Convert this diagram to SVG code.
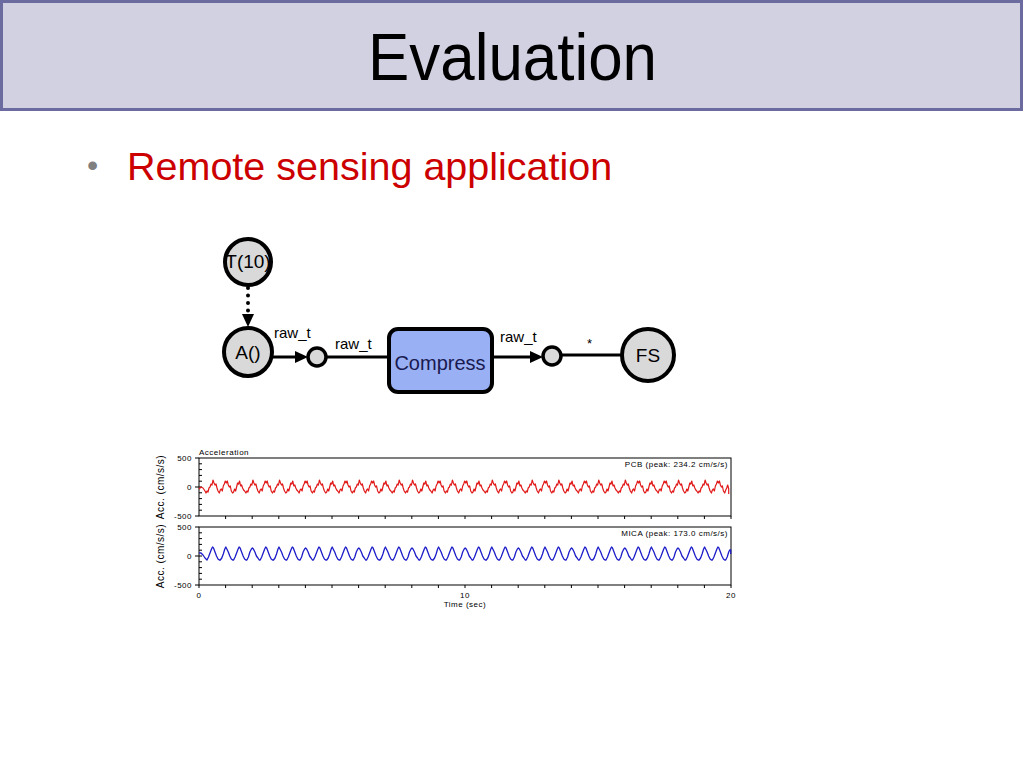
<svg xmlns="http://www.w3.org/2000/svg" width="1024" height="768" viewBox="0 0 1024 768">
<style>
.lbl{font-family:"Liberation Sans",Arial,sans-serif;fill:#000}
.node{fill:#d9d9d9;stroke:#000;stroke-width:4}
.conn{stroke:#000;stroke-width:3;fill:none}
.port{fill:#d9d9d9;stroke:#000;stroke-width:3.5}
.ax{stroke:#000;stroke-width:1;fill:none}
.tk{font-family:"Liberation Sans",Arial,sans-serif;font-size:8px;fill:#000;letter-spacing:0.5px}
</style>
<defs>
<path id="rA" d="M0,0 l1,-2 1,1 1,-4 1,-1 1,-3 1,1 1,-5 1,3 1,2 1,-1 1,4 1,3 1.3,2"/>
</defs>
<rect width="1024" height="768" fill="#fff"/>
<g id="title">
<rect x="1.5" y="1.5" width="1020" height="108" fill="#d1d1e1" stroke="#6b6b9f" stroke-width="3"/>
<text x="368" y="80" class="lbl" font-size="66" textLength="289" lengthAdjust="spacingAndGlyphs">Evaluation</text>
</g>
<g id="bullet">
<text x="87" y="176" font-family="Liberation Sans, Arial, sans-serif" font-size="32" fill="#808080">•</text>
<text x="127" y="180" font-family="Liberation Sans, Arial, sans-serif" font-size="39.5" fill="#cc0000">Remote sensing application</text>
</g>
<g id="connectors">
<line x1="248" y1="288" x2="248" y2="311" stroke="#000" stroke-width="4" stroke-linecap="round" stroke-dasharray="0,7.5"/>
<path d="M248,314 L242,314 L248,327 L254,314 z" fill="#000"/>
<line x1="272" y1="357" x2="297" y2="357" class="conn"/>
<path d="M295,351 L308,357 L295,363 z" fill="#000"/>
<line x1="326" y1="357" x2="389" y2="357" class="conn"/>
<line x1="492" y1="357" x2="532" y2="357" class="conn"/>
<path d="M530,351 L543,357 L530,363 z" fill="#000"/>
<line x1="561" y1="355" x2="623" y2="355" class="conn"/>
<text x="274" y="338" class="lbl" font-size="15">raw_t</text>
<text x="335" y="349" class="lbl" font-size="15">raw_t</text>
<text x="500" y="342" class="lbl" font-size="15">raw_t</text>
<text x="587" y="348" class="lbl" font-size="13">*</text>
</g>
<g id="node-T">
<circle cx="248" cy="262" r="23" fill="#d9d9d9"/>
<text x="248" y="268" text-anchor="middle" class="lbl" font-size="19">T(10)</text>
<circle cx="248" cy="262" r="23" fill="none" stroke="#000" stroke-width="4"/>
</g>
<g id="node-A">
<circle cx="248" cy="352" r="24" class="node"/>
<text x="248" y="359" text-anchor="middle" class="lbl" font-size="19">A()</text>
</g>
<g id="port-1"><circle cx="317" cy="357" r="9" class="port"/></g>
<g id="node-Compress">
<rect x="389" y="329" width="103" height="63" rx="9" fill="#99b0f5" stroke="#000" stroke-width="4"/>
<text x="440" y="370" text-anchor="middle" class="lbl" font-size="20" style="fill:#1a1a50">Compress</text>
</g>
<g id="port-2"><circle cx="552" cy="356" r="9" class="port"/></g>
<g id="node-FS">
<circle cx="648" cy="355" r="26" class="node"/>
<text x="648" y="362" text-anchor="middle" class="lbl" font-size="19">FS</text>
</g>
<g id="chart">
<rect x="199" y="458" width="532" height="58" class="ax"/>
<rect x="199" y="527" width="532" height="58" class="ax"/>
<path class="ax" d="M199,463.8h3M199,469.6h3M199,475.4h3M199,481.2h3M199,487h3M199,492.8h3M199,498.6h3M199,504.4h3M199,510.2h3M195,458h4M195,487h4M195,516h4
M199,532.8h3M199,538.6h3M199,544.4h3M199,550.2h3M199,556h3M199,561.8h3M199,567.6h3M199,573.4h3M199,579.2h3M195,527h4M195,556h4M195,585h4"/>
<path class="ax" d="M225.6,516v3M252.2,516v3M278.8,516v3M305.4,516v3M332,516v3M358.6,516v3M385.2,516v3M411.8,516v3M438.4,516v3M465,516v3M491.6,516v3M518.2,516v3M544.8,516v3M571.4,516v3M598,516v3M624.6,516v3M651.2,516v3M677.8,516v3M704.4,516v3M731,516v3
M199,585v3M225.6,585v3M252.2,585v3M278.8,585v3M305.4,585v3M332,585v3M358.6,585v3M385.2,585v3M411.8,585v3M438.4,585v3M465,585v3M491.6,585v3M518.2,585v3M544.8,585v3M571.4,585v3M598,585v3M624.6,585v3M651.2,585v3M677.8,585v3M704.4,585v3M731,585v3"/>
<path fill="none" stroke="#e01818" stroke-width="1.2" stroke-linejoin="round" d="M199,489 l2,-2 2,1 2,3 1,2 
l1,-2 1,1 1,-4 1,-1 1,-3 1,1 1,-5 1,3 1,2 1,-1 1,4 1,3 1.3,2
l1,-3 1,-1 1,2 1,-5 1,-2 1,-3 1,2 1,-2 1,4 1,2 1,-1 1,5 1.3,2
l1,-1 1,-3 1,2 1,-4 1,-4 1,1 1,-3 1,5 1,-1 1,3 1,2 1,1 1.3,2
l1,-2 1,1 1,-4 1,-1 1,-3 1,1 1,-5 1,3 1,2 1,-1 1,4 1,3 1.3,2
l1,-3 1,-1 1,2 1,-5 1,-2 1,-3 1,2 1,-2 1,4 1,2 1,-1 1,5 1.3,2
l1,-2 1,1 1,-4 1,-1 1,-3 1,1 1,-5 1,3 1,2 1,-1 1,4 1,3 1.3,2
l1,-1 1,-3 1,2 1,-4 1,-4 1,1 1,-3 1,5 1,-1 1,3 1,2 1,1 1.3,2
l1,-3 1,-1 1,2 1,-5 1,-2 1,-3 1,2 1,-2 1,4 1,2 1,-1 1,5 1.3,2
l1,-2 1,1 1,-4 1,-1 1,-3 1,1 1,-5 1,3 1,2 1,-1 1,4 1,3 1.3,2
l1,-1 1,-3 1,2 1,-4 1,-4 1,1 1,-3 1,5 1,-1 1,3 1,2 1,1 1.3,2
l1,-3 1,-1 1,2 1,-5 1,-2 1,-3 1,2 1,-2 1,4 1,2 1,-1 1,5 1.3,2
l1,-2 1,1 1,-4 1,-1 1,-3 1,1 1,-5 1,3 1,2 1,-1 1,4 1,3 1.3,2
l1,-3 1,-1 1,2 1,-5 1,-2 1,-3 1,2 1,-2 1,4 1,2 1,-1 1,5 1.3,2
l1,-1 1,-3 1,2 1,-4 1,-4 1,1 1,-3 1,5 1,-1 1,3 1,2 1,1 1.3,2
l1,-2 1,1 1,-4 1,-1 1,-3 1,1 1,-5 1,3 1,2 1,-1 1,4 1,3 1.3,2
l1,-2 1,1 1,-4 1,-1 1,-3 1,1 1,-5 1,3 1,2 1,-1 1,4 1,3 1.3,2
l1,-1 1,-3 1,2 1,-4 1,-4 1,1 1,-3 1,5 1,-1 1,3 1,2 1,1 1.3,2
l1,-3 1,-1 1,2 1,-5 1,-2 1,-3 1,2 1,-2 1,4 1,2 1,-1 1,5 1.3,2
l1,-2 1,1 1,-4 1,-1 1,-3 1,1 1,-5 1,3 1,2 1,-1 1,4 1,3 1.3,2
l1,-3 1,-1 1,2 1,-5 1,-2 1,-3 1,2 1,-2 1,4 1,2 1,-1 1,5 1.3,2
l1,-1 1,-3 1,2 1,-4 1,-4 1,1 1,-3 1,5 1,-1 1,3 1,2 1,1 1.3,2
l1,-2 1,1 1,-4 1,-1 1,-3 1,1 1,-5 1,3 1,2 1,-1 1,4 1,3 1.3,2
l1,-3 1,-1 1,2 1,-5 1,-2 1,-3 1,2 1,-2 1,4 1,2 1,-1 1,5 1.3,2
l1,-1 1,-3 1,2 1,-4 1,-4 1,1 1,-3 1,5 1,-1 1,3 1,2 1,1 1.3,2
l1,-2 1,1 1,-4 1,-1 1,-3 1,1 1,-5 1,3 1,2 1,-1 1,4 1,3 1.3,2
l1,-3 1,-1 1,2 1,-5 1,-2 1,-3 1,2 1,-2 1,4 1,2 1,-1 1,5 1.3,2
l1,-2 1,1 1,-4 1,-1 1,-3 1,1 1,-5 1,3 1,2 1,-1 1,4 1,3 1.3,2
l1,-1 1,-3 1,2 1,-4 1,-4 1,1 1,-3 1,5 1,-1 1,3 1,2 1,1 1.3,2
l1,-3 1,-1 1,2 1,-5 1,-2 1,-3 1,2 1,-2 1,4 1,2 1,-1 1,5 1.3,2
l1,-2 1,1 1,-4 1,-1 1,-3 1,1 1,-5 1,3 1,2 1,-1 1,4 1,3 1.3,2
l1,-1 1,-3 1,2 1,-4 1,-4 1,1 1,-3 1,5 1,-1 1,3 1,2 1,1 1.3,2
l1,-2 1,1 1,-4 1,-1 1,-3 1,1 1,-5 1,3 1,2 1,-1 1,4 1,3 1.3,2
l1,-3 1,-1 1,2 1,-5 1,-2 1,-3 1,2 1,-2 1,4 1,2 1,-1 1,5 1.3,2
l1,-1 1,-3 1,2 1,-4 1,-4 1,1 1,-3 1,5 1,-1 1,3 1,2 1,1 1.3,2
l1,-3 1,-1 1,2 1,-5 1,-2 1,-3 1,2 1,-2 1,4 1,2 1,-1 1,5 1.3,2
l1,-2 1,1 1,-4 1,-1 1,-3 1,1 1,-5 1,3 1,2 1,-1 1,4 1,3 1.3,2
l1,-1 1,-3 1,2 1,-4 1,-4 1,1 1,-3 1,5 1,-1 1,3 1,2 1,1 1.3,2
l1,-2 1,1 1,-4 1,-1 1,-3 1,1 1,-5 1,3 1,2 1,-1 1,4 1,3 1.3,2
l1,-3 1,-1 1,2 1,-5 1,-2 1,-3 1,2 1,-2 1,4 1,2 1,-1 1,5 1.3,2
l1,-3 1,-2 1,-3 1,4 0,5"/>
<path fill="none" stroke="#1c1cc8" stroke-width="1.3" stroke-linejoin="round" d="M199,553 l2,0 2,2 2,3 2,2 
l1.5,-3 1.5,-4 1.5,-4 1,-2 1,1 1.5,4 1.5,4 1.5,3 1.3,1 1,0
l1.5,-2 1.5,-4 1.5,-5 1,-2 1,2 1.5,3 1.5,4 1.5,3 1.3,1 1,0
l1.5,-3 1.5,-4 1.5,-4 1,-2 1,1 1.5,4 1.5,4 1.5,3 1.3,1 1,0
l1.5,-3 1.5,-5 1.5,-3 1,-1 1,1 1.5,3 1.5,4 1.5,2 1.3,2 1,0
l1.5,-3 1.5,-4 1.5,-4 1,-2 1,1 1.5,4 1.5,4 1.5,3 1.3,1 1,0
l1.5,-2 1.5,-4 1.5,-5 1,-2 1,2 1.5,3 1.5,4 1.5,3 1.3,1 1,0
l1.5,-3 1.5,-4 1.5,-4 1,-2 1,1 1.5,4 1.5,4 1.5,3 1.3,1 1,0
l1.5,-3 1.5,-5 1.5,-3 1,-1 1,1 1.5,3 1.5,4 1.5,2 1.3,2 1,0
l1.5,-3 1.5,-4 1.5,-4 1,-2 1,1 1.5,4 1.5,4 1.5,3 1.3,1 1,0
l1.5,-2 1.5,-4 1.5,-5 1,-2 1,2 1.5,3 1.5,4 1.5,3 1.3,1 1,0
l1.5,-3 1.5,-4 1.5,-4 1,-2 1,1 1.5,4 1.5,4 1.5,3 1.3,1 1,0
l1.5,-3 1.5,-5 1.5,-3 1,-1 1,1 1.5,3 1.5,4 1.5,2 1.3,2 1,0
l1.5,-3 1.5,-4 1.5,-4 1,-2 1,1 1.5,4 1.5,4 1.5,3 1.3,1 1,0
l1.5,-2 1.5,-4 1.5,-5 1,-2 1,2 1.5,3 1.5,4 1.5,3 1.3,1 1,0
l1.5,-3 1.5,-4 1.5,-4 1,-2 1,1 1.5,4 1.5,4 1.5,3 1.3,1 1,0
l1.5,-3 1.5,-5 1.5,-3 1,-1 1,1 1.5,3 1.5,4 1.5,2 1.3,2 1,0
l1.5,-3 1.5,-4 1.5,-4 1,-2 1,1 1.5,4 1.5,4 1.5,3 1.3,1 1,0
l1.5,-2 1.5,-4 1.5,-5 1,-2 1,2 1.5,3 1.5,4 1.5,3 1.3,1 1,0
l1.5,-3 1.5,-4 1.5,-4 1,-2 1,1 1.5,4 1.5,4 1.5,3 1.3,1 1,0
l1.5,-3 1.5,-5 1.5,-3 1,-1 1,1 1.5,3 1.5,4 1.5,2 1.3,2 1,0
l1.5,-3 1.5,-4 1.5,-4 1,-2 1,1 1.5,4 1.5,4 1.5,3 1.3,1 1,0
l1.5,-2 1.5,-4 1.5,-5 1,-2 1,2 1.5,3 1.5,4 1.5,3 1.3,1 1,0
l1.5,-3 1.5,-4 1.5,-4 1,-2 1,1 1.5,4 1.5,4 1.5,3 1.3,1 1,0
l1.5,-3 1.5,-5 1.5,-3 1,-1 1,1 1.5,3 1.5,4 1.5,2 1.3,2 1,0
l1.5,-3 1.5,-4 1.5,-4 1,-2 1,1 1.5,4 1.5,4 1.5,3 1.3,1 1,0
l1.5,-2 1.5,-4 1.5,-5 1,-2 1,2 1.5,3 1.5,4 1.5,3 1.3,1 1,0
l1.5,-3 1.5,-4 1.5,-4 1,-2 1,1 1.5,4 1.5,4 1.5,3 1.3,1 1,0
l1.5,-3 1.5,-5 1.5,-3 1,-1 1,1 1.5,3 1.5,4 1.5,2 1.3,2 1,0
l1.5,-3 1.5,-4 1.5,-4 1,-2 1,1 1.5,4 1.5,4 1.5,3 1.3,1 1,0
l1.5,-2 1.5,-4 1.5,-5 1,-2 1,2 1.5,3 1.5,4 1.5,3 1.3,1 1,0
l1.5,-3 1.5,-4 1.5,-4 1,-2 1,1 1.5,4 1.5,4 1.5,3 1.3,1 1,0
l1.5,-3 1.5,-5 1.5,-3 1,-1 1,1 1.5,3 1.5,4 1.5,2 1.3,2 1,0
l1.5,-3 1.5,-4 1.5,-4 1,-2 1,1 1.5,4 1.5,4 1.5,3 1.3,1 1,0
l1.5,-2 1.5,-4 1.5,-5 1,-2 1,2 1.5,3 1.5,4 1.5,3 1.3,1 1,0
l1.5,-3 1.5,-4 1.5,-4 1,-2 1,1 1.5,4 1.5,4 1.5,3 1.3,1 1,0
l1.5,-3 1.5,-5 1.5,-3 1,-1 1,1 1.5,3 1.5,4 1.5,2 1.3,2 1,0
l1.5,-3 1.5,-4 1.5,-4 1,-2 1,1 1.5,4 1.5,4 1.5,3 1.3,1 1,0
l1.5,-2 1.5,-4 1.5,-5 1,-2 1,2 1.5,3 1.5,4 1.5,3 1.3,1 1,0
l1.5,-3 1.5,-4 1.5,-4 1,-2 1,1 1.5,4 1.5,4 1.5,3 1.3,1 1,0
l1.5,-3 1.5,-5 1,-2 1,0 0,4"/>
<text x="199" y="455" class="tk">Acceleration</text>
<text x="728" y="467" text-anchor="end" class="tk">PCB (peak: 234.2 cm/s/s)</text>
<text x="728" y="536" text-anchor="end" class="tk">MICA (peak: 173.0 cm/s/s)</text>
<text x="192" y="461" text-anchor="end" class="tk">500</text>
<text x="192" y="490" text-anchor="end" class="tk">0</text>
<text x="192" y="519" text-anchor="end" class="tk">-500</text>
<text x="192" y="530" text-anchor="end" class="tk">500</text>
<text x="192" y="559" text-anchor="end" class="tk">0</text>
<text x="192" y="588" text-anchor="end" class="tk">-500</text>
<text x="199" y="598" text-anchor="middle" class="tk">0</text>
<text x="465" y="598" text-anchor="middle" class="tk">10</text>
<text x="731" y="598" text-anchor="middle" class="tk">20</text>
<text x="465" y="607" text-anchor="middle" class="tk">Time (sec)</text>
<text transform="translate(164,487) rotate(-90)" text-anchor="middle" class="tk" style="font-size:10px">Acc. (cm/s/s)</text>
<text transform="translate(164,556) rotate(-90)" text-anchor="middle" class="tk" style="font-size:10px">Acc. (cm/s/s)</text>
</g>
</svg>
